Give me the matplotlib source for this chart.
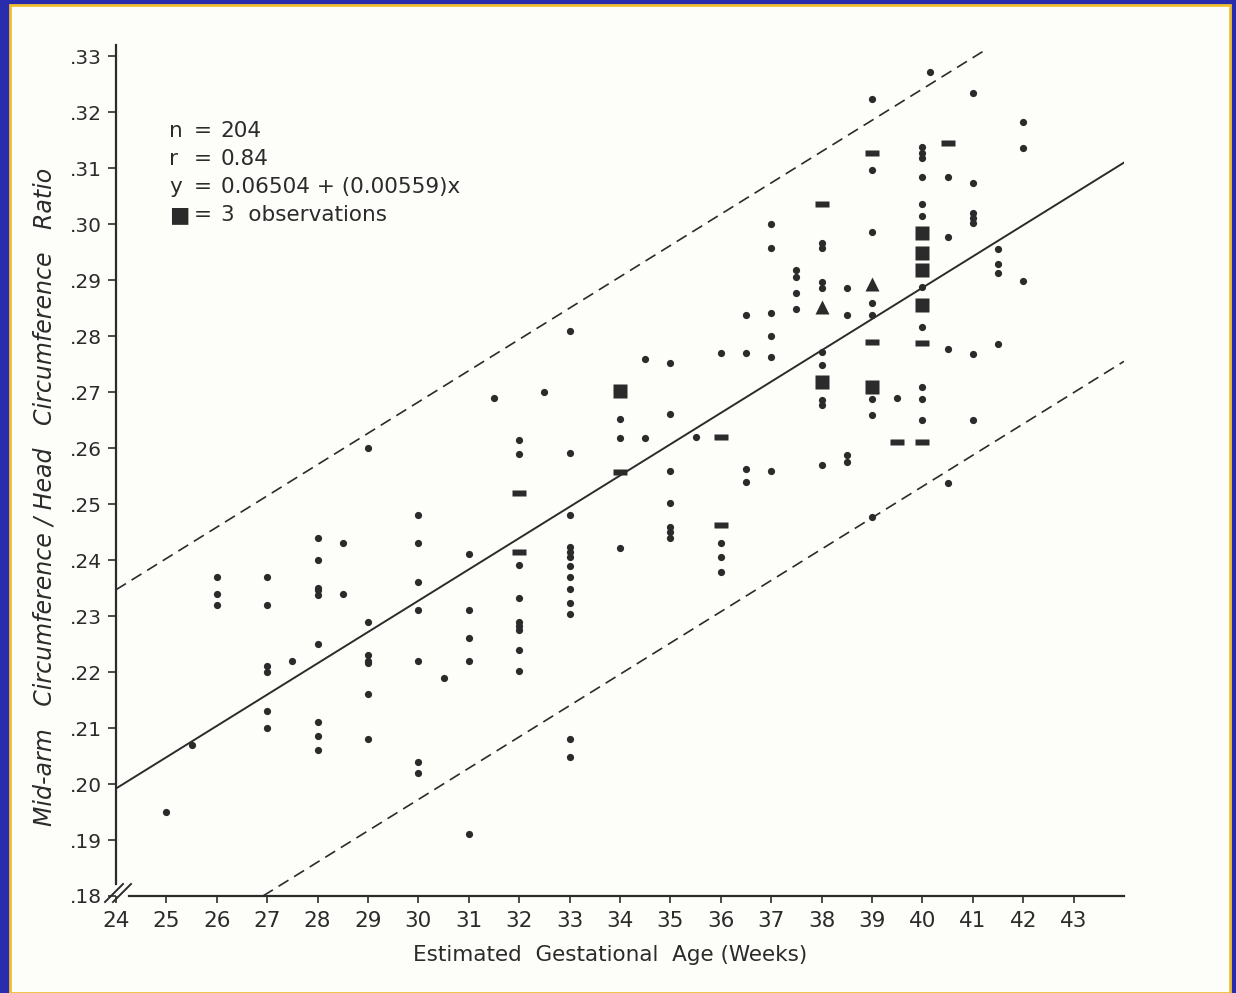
import numpy as np
import matplotlib
matplotlib.use("Agg")
import matplotlib.pyplot as plt
from matplotlib.patches import Rectangle
from matplotlib.path import Path

# Mid-arm / head circumference ratio against gestational age.
# Dots are single observations, dashes two, squares three.

weeks = list(range(24, 44))
ratio_ticks = [0.18, 0.19, 0.20, 0.21, 0.22, 0.23, 0.24, 0.25, 0.26, 0.27,
               0.28, 0.29, 0.30, 0.31, 0.32, 0.33]

dot_x = [25, 25.5,
         26, 26, 26,
         27, 27, 27, 27, 27, 27,
         27.5,
         28, 28, 28, 28, 28, 28, 28, 28, 28,
         28.5, 28.5,
         29, 29, 29, 29, 29, 29, 29,
         30, 30, 30, 30, 30, 30, 30,
         30.5,
         31, 31, 31, 31, 31,
         31.5,
         32, 32, 32, 32, 32, 32, 32, 32, 32,
         32.5,
         33, 33, 33, 33, 33, 33, 33, 33, 33, 33, 33, 33, 33,
         34, 34, 34,
         34.5, 34.5,
         35, 35, 35, 35, 35, 35, 35,
         35.5,
         36, 36, 36, 36,
         36.5, 36.5, 36.5, 36.5,
         37, 37, 37, 37, 37, 37,
         37.5, 37.5, 37.5, 37.5,
         38, 38, 38, 38, 38, 38, 38, 38, 38,
         38.5, 38.5, 38.5, 38.5,
         39, 39, 39, 39, 39, 39, 39, 39,
         39.5,
         40, 40, 40, 40, 40, 40, 40, 40, 40, 40, 40,
         40.15,
         40.5, 40.5, 40.5, 40.5,
         41, 41, 41, 41, 41, 41, 41,
         41.5, 41.5, 41.5, 41.5,
         42, 42, 42]
dot_y = [0.195, 0.207,
         0.237, 0.234, 0.232,
         0.237, 0.232, 0.221, 0.220, 0.213, 0.210,
         0.222,
         0.244, 0.240, 0.235, 0.2346, 0.2338, 0.225, 0.211, 0.2086, 0.206,
         0.243, 0.234,
         0.260, 0.229, 0.223, 0.222, 0.2216, 0.216, 0.208,
         0.248, 0.243, 0.236, 0.231, 0.222, 0.204, 0.202,
         0.219,
         0.241, 0.231, 0.226, 0.222, 0.191,
         0.269,
         0.2614, 0.259, 0.2391, 0.2332, 0.2289, 0.2282, 0.2275, 0.2239, 0.2202,
         0.270,
         0.281, 0.2591, 0.248, 0.2423, 0.2414, 0.2405, 0.2389, 0.237, 0.2348,
         0.2323, 0.2304, 0.208, 0.2048,
         0.2652, 0.2618, 0.2421,
         0.2759, 0.2618,
         0.2752, 0.2661, 0.2559, 0.2502, 0.2459, 0.245, 0.2439,
         0.262,
         0.277, 0.243, 0.2405, 0.2379,
         0.2837, 0.277, 0.2562, 0.2539,
         0.300, 0.2957, 0.2841, 0.280, 0.2763, 0.2559,
         0.2918, 0.2905, 0.2877, 0.2848,
         0.2966, 0.2957, 0.2896, 0.2886, 0.2772, 0.2748, 0.2686, 0.2677, 0.257,
         0.2886, 0.2838, 0.2588, 0.2575,
         0.3223, 0.3096, 0.2986, 0.2859, 0.2838, 0.2688, 0.2659, 0.2477,
         0.2689,
         0.3137, 0.3127, 0.3118, 0.3084, 0.3036, 0.3014, 0.2888, 0.2816,
         0.2709, 0.2688, 0.265,
         0.3271,
         0.3084, 0.2977, 0.2777, 0.2538,
         0.3234, 0.3073, 0.302, 0.3011, 0.3002, 0.2768, 0.265,
         0.2955, 0.2929, 0.2913, 0.2786,
         0.3182, 0.3136, 0.2898]

dash_x = [32, 32, 34, 36, 36, 38, 39, 39, 39.5, 40, 40, 40.5]
dash_y = [0.252, 0.2414, 0.2557, 0.262, 0.2463, 0.3036, 0.3127, 0.2789,
          0.2611, 0.2788, 0.2611, 0.3145]

square_x = [34, 38, 39, 40, 40, 40, 40]
square_y = [0.2702, 0.2718, 0.2709, 0.2984, 0.2948, 0.2918, 0.2855]

tri_x = [38, 39]
tri_y = [0.2852, 0.2893]

intercept = 0.06504
slope = 0.00559
band = 0.0355

W, H = 1236, 993
ink = "#2b2b2b"

fig = plt.figure(figsize=(W / 100, H / 100), dpi=100, facecolor="#2a2cae")
fig.add_artist(Rectangle((10 / W, 0), 1220 / W, 988 / H,
                         transform=fig.transFigure, facecolor="#fdfdfa",
                         edgecolor="#f0c030", lw=2, zorder=-10))

ax = fig.add_axes([116 / W, 97 / H, 1008 / W, 851 / H])
ax.set_facecolor("none")
ax.set_xlim(24, 44)
ax.set_ylim(0.18, 0.332)

for side in ("top", "right"):
    ax.spines[side].set_visible(False)
for side in ("left", "bottom"):
    ax.spines[side].set_color(ink)
    ax.spines[side].set_linewidth(1.6)
ax.spines["left"].set_bounds(0.1822, 0.332)
ax.spines["bottom"].set_bounds(24.25, 44)

ax.set_xticks(weeks)
ax.set_xticklabels([str(w) for w in weeks])
ax.set_yticks(ratio_ticks)
ax.set_yticklabels(["." + f"{t:.2f}"[2:] for t in ratio_ticks])
ax.tick_params(axis="x", direction="out", length=5, width=1.2, color=ink,
               pad=6, labelsize=15.5, labelcolor=ink)
ax.tick_params(axis="y", direction="out", length=6, width=1.2, color=ink,
               pad=4, labelsize=14.5, labelcolor=ink)

# axis break at the origin
for off in (0, 8):
    ax.plot([(-11 + off) / 1008, (7 + off) / 1008], [-6 / 851, 12 / 851],
            transform=ax.transAxes, color=ink, lw=1.4, clip_on=False)

# regression line and limits
xr = np.array([24, 44])
ax.plot(xr, intercept + slope * xr, color=ink, lw=1.4)
xu = np.array([24, 41.25])
ax.plot(xu, intercept + slope * xu + band, color=ink, lw=1.2,
        dashes=(7, 4))
xl = np.array([(0.18 + band - intercept) / slope, 44])
ax.plot(xl, intercept + slope * xl - band, color=ink, lw=1.2,
        dashes=(7, 4))

dash_marker = Path([(-1, -0.5), (1, -0.5), (1, 0.5), (-1, 0.5), (-1, -0.5)],
                   [Path.MOVETO, Path.LINETO, Path.LINETO, Path.LINETO,
                    Path.CLOSEPOLY])
ax.plot(dot_x, dot_y, "o", ms=5.2, color=ink, mec="none")
ax.plot(dash_x, dash_y, ls="none", marker=dash_marker, ms=10, color=ink,
        mec="none")
ax.plot(square_x, square_y, "s", ms=10.5, color=ink, mec="none")
ax.plot(tri_x, tri_y, "^", ms=9.5, color=ink, mec="none")

# summary block
rows = [("n", "204"), ("r", "0.84"), ("y", "0.06504 + (0.00559)x"),
        ("\u25a0", "3  observations")]
for i, (sym, val) in enumerate(rows):
    yv = 0.3166 - 0.005 * i
    ax.text(25.05, yv, sym, fontsize=15.5, color=ink, va="center", ha="left")
    ax.text(25.72, yv, "=", fontsize=15.5, color=ink, va="center",
            ha="center")
    ax.text(26.08, yv, val, fontsize=15.5, color=ink, va="center", ha="left")

fig.text(610 / W, 1 - 955 / H, "Estimated  Gestational  Age (Weeks)",
         fontsize=15.5, color=ink, ha="center", va="center")
fig.text(45 / W, 1 - 497 / H,
         "Mid-arm   Circumference / Head   Circumference   Ratio",
         fontsize=17, style="italic", color=ink, rotation=90,
         ha="center", va="center")

fig.savefig("out.png", dpi=100, facecolor=fig.get_facecolor())
